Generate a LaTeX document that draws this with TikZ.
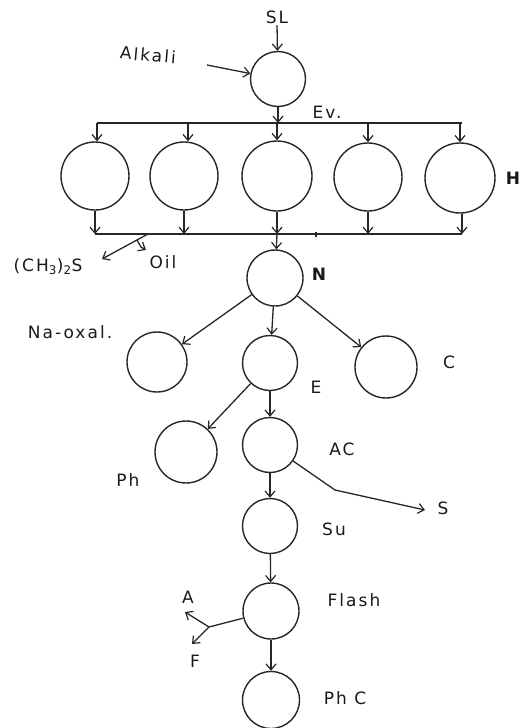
\documentclass[tikz,border=0pt]{standalone}
\usepackage{fontspec}
\setmainfont{DejaVu Sans}[LetterSpace=12]
\usetikzlibrary{arrows.meta}
\begin{document}
\begin{tikzpicture}[x=1pt,y=-1pt,
  line width=1.3pt, draw=black!85,
  vessel/.style={circle,draw,line width=1.4pt,inner sep=0pt,minimum size=#1},
  vessel/.default=56pt,
  arr/.style={-{Straight Barb[length=6pt,width=10pt,line width=1.2pt]}},
  lbl/.style={font=\fontsize{17}{19}\selectfont,text=black!90,inner sep=1pt}]
\useasboundingbox (0,0) rectangle (521,728);
% vessels
\node[vessel=55pt] (top) at (278,79) {};
\node[vessel=68pt] (h1) at (95,176) {};
\node[vessel=68pt] (h2) at (184,176) {};
\node[vessel=70pt] (h3) at (277,176) {};
\node[vessel=68pt] (h4) at (368,177) {};
\node[vessel=70pt] (h5) at (460,178) {};
\node[vessel=56pt] (n) at (275,278) {};
\node[vessel=60pt] (na) at (157,362) {};
\node[vessel=55pt] (e) at (270,363) {};
\node[vessel=62pt] (c) at (386,367) {};
\node[vessel=62pt] (ph) at (186,452) {};
\node[vessel=55pt] (ac) at (270,445) {};
\node[vessel=55pt] (su) at (270,526) {};
\node[vessel=56pt] (fl) at (271,611) {};
\node[vessel=57pt] (phc) at (271,700) {};
% bars
\coordinate (tb1) at (97,123);
\coordinate (tb2) at (462,123);
\coordinate (bb1) at (95,234);
\coordinate (bb2) at (462,234);
\coordinate (bbc) at (277,234);
\draw (tb1) -- (tb2);
\draw (bb1) -- (bb2);
% labels
\node[lbl] (sl) at (277,17) {SL};
\node[lbl,rotate=-5] (alk) at (148,55) {Alkali};
\node[lbl] (ev) at (327,112) {Ev.};
\node[lbl,font=\fontsize{17}{19}\selectfont\bfseries] (hl) at (513,178) {H};
\node[lbl] (ch) at (48,267) {(CH\textsubscript{3})\textsubscript{2}S};
\node[lbl] (oil) at (163,262) {Oil};
\node[lbl,font=\fontsize{17}{19}\selectfont\bfseries] (nl) at (319,274) {N};
\node[lbl] (nal) at (70,332) {Na-oxal.};
\node[lbl] (el) at (316,387) {E};
\node[lbl] (cl) at (449,362) {C};
\node[lbl] (phl) at (128,480) {Ph};
\node[lbl] (acl) at (342,449) {AC};
\node[lbl] (sout) at (443,508) {S};
\node[lbl] (sul) at (334,529) {Su};
\node[lbl] (fll) at (354,600) {Flash};
\node[lbl] (al) at (188,597) {A};
\node[lbl] (fo) at (195,661) {F};
\node[lbl] (phcl) at (345,698) {Ph C};
% feeds
\draw[arr] (sl.south) -- (top);
\coordinate (alks) at (207,65);
\draw[arr] (alks) -- (top);
% top circle to distributor
\draw[arr] (top) -- (top.south |- tb1);
\foreach \h/\x in {h1/97,h2/188,h3/277,h4/368,h5/460}{
  \coordinate (t\h) at (\x,123);
  \draw[arr] (t\h) -- (\h.north -| t\h);
}
\foreach \h/\x in {h1/95,h2/184,h3/277,h4/368,h5/462}{
  \draw[arr] (\h.south -| \x,0) -- (\x,234);
}
% mark on lower bar
\draw[line width=2.6pt] (316,231.5) -- (316,237);
% (CH3)2S and Oil
\coordinate (bo) at (148,234);
\coordinate (cht) at (102,259);
\draw[arr] (bo) -- (cht);
\coordinate (o1) at (137,240);
\coordinate (o2) at (146,250);
\draw[arr] (o1) -- (141,247) -- (o2);
% N and branches
\draw[arr] (bbc) -- (n);
\draw[arr] (n) -- (na);
\draw[arr] (n) -- (e);
\draw[arr] (n) -- (c);
\draw[arr] (e) -- (ph);
\draw[arr] (e) -- (ac);
\coordinate (sk) at (335,490);
\coordinate (st) at (425,510);
\draw[arr] (ac) -- (sk) -- (st);
\draw[arr] (ac) -- (su);
\draw[arr] (su) -- (fl);
\coordinate (afb) at (209,627);
\coordinate (at) at (185,612);
\coordinate (ft) at (192,644);
\draw (fl) -- (afb);
\draw[arr] (afb) -- (at);
\draw[arr] (afb) -- (ft);
\draw[arr] (fl) -- (phc);
\end{tikzpicture}
\end{document}
